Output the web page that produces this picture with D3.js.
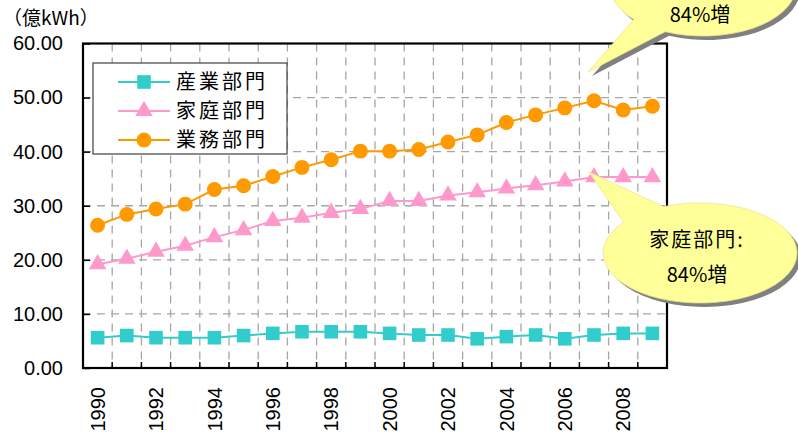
<!DOCTYPE html>
<html>
<head>
<meta charset="utf-8">
<script src="https://cdn.jsdelivr.net/npm/d3@7"></script>
<style>
  html, body { margin: 0; padding: 0; background: #fff; }
  svg { display: block; }
</style>
</head>
<body>
<svg id="chart" width="798" height="437"></svg>
<script>
// Electricity consumption by sector (100 million kWh)
const years = [1990,1991,1992,1993,1994,1995,1996,1997,1998,1999,
               2000,2001,2002,2003,2004,2005,2006,2007,2008,2009];
const industry = [5.6,6.0,5.6,5.6,5.6,6.0,6.4,6.7,6.7,6.7,
                  6.4,6.1,6.1,5.4,5.8,6.1,5.4,6.1,6.4,6.4];
const household = [19.2,20.2,21.5,22.6,24.2,25.5,27.2,27.8,28.7,29.4,
                   30.9,30.9,31.9,32.5,33.2,33.8,34.5,35.3,35.3,35.3];
const business = [26.4,28.4,29.4,30.3,33.0,33.7,35.4,37.1,38.5,40.1,
                  40.1,40.4,41.8,43.1,45.4,46.8,48.1,49.4,47.7,48.4];
const yTicks = [0,10,20,30,40,50,60];
const seriesNames = ["産業部門","家庭部門","業務部門"];
const seriesColors = ["#33CCCC","#FF99CC","#FF9900"];
const unitLabel = "（億kWh）";
const calloutTexts = [["84%増"],["家庭部門:","84%増"]];

const series = [
  {name: seriesNames[0], values: industry, color: seriesColors[0], symbol: d3.symbolSquare, size: 185},
  {name: seriesNames[1], values: household, color: seriesColors[1], symbol: d3.symbolTriangle, size: 135},
  {name: seriesNames[2], values: business, color: seriesColors[2], symbol: d3.symbolCircle, size: 175}
];

const svg = d3.select("#chart");
const plotLeft = 83, plotRight = 667, plotTop = 43.5, plotBottom = 368;
const numFont = "'Liberation Sans', Arial, sans-serif";
const jpFont = "'Noto Sans CJK JP', sans-serif";

const x = d3.scaleBand().domain(years).range([plotLeft, plotRight]).padding(0);
const y = d3.scaleLinear().domain([0, 60]).range([plotBottom, plotTop]);
const cx = d => x(d) + x.bandwidth() / 2;

// dashed grid
const grid = svg.append("g").attr("stroke", "#a6a6a6").attr("stroke-width", 1.3)
  .attr("stroke-dasharray", "8,6");
grid.selectAll("line.h").data(yTicks.filter(v => v > 0 && v < 60)).join("line")
  .attr("x1", plotLeft).attr("x2", plotRight).attr("y1", d => y(d)).attr("y2", d => y(d));
grid.selectAll("line.v").data(years.slice(1)).join("line")
  .attr("x1", d => x(d)).attr("x2", d => x(d)).attr("y1", plotTop).attr("y2", plotBottom);

// y axis (ticks point inward)
const yAxis = svg.append("g").attr("transform", `translate(${plotLeft},0)`)
  .call(d3.axisLeft(y).tickValues(yTicks).tickSize(-7).tickPadding(20)
    .tickFormat(d3.format(".2f")));
yAxis.select(".domain").remove();
yAxis.selectAll("line").attr("stroke", "#000").attr("stroke-width", 1.5);
yAxis.selectAll("text").attr("font-family", numFont).attr("font-size", 20).attr("fill", "#000");

// x axis labels (even years, vertical)
const xAxis = svg.append("g").attr("transform", `translate(0,${plotBottom})`)
  .call(d3.axisBottom(x).tickSize(0).tickFormat(d => d % 2 === 0 ? d : ""));
xAxis.select(".domain").remove();
xAxis.selectAll("text")
  .attr("font-family", numFont).attr("font-size", 20).attr("fill", "#000")
  .attr("transform", "rotate(-90)")
  .attr("text-anchor", "end")
  .attr("x", -19).attr("y", 0).attr("dy", "0.36em");

// x ticks at category boundaries, pointing inward
svg.append("g").selectAll("line").data(years.slice(1)).join("line")
  .attr("x1", d => x(d)).attr("x2", d => x(d))
  .attr("y1", plotBottom).attr("y2", plotBottom - 6)
  .attr("stroke", "#000").attr("stroke-width", 1.5);

// plot frame
svg.append("rect").attr("x", plotLeft).attr("y", plotTop)
  .attr("width", plotRight - plotLeft).attr("height", plotBottom - plotTop)
  .attr("fill", "none").attr("stroke", "#000").attr("stroke-width", 2.2);

// series lines and markers
const line = d3.line().x((d, i) => cx(years[i])).y(d => y(d));
series.forEach(s => {
  const g = svg.append("g");
  g.append("path").datum(s.values).attr("d", line)
    .attr("fill", "none").attr("stroke", s.color).attr("stroke-width", 2);
  g.selectAll("path.m").data(s.values).join("path").attr("class", "m")
    .attr("transform", (d, i) => `translate(${cx(years[i])},${y(d)})`)
    .attr("d", d3.symbol().type(s.symbol).size(s.size))
    .attr("fill", s.color);
});

// legend
const lg = svg.append("g");
lg.append("rect").attr("x", 93).attr("y", 63).attr("width", 194).attr("height", 91)
  .attr("fill", "#fff").attr("stroke", "#404040").attr("stroke-width", 1.2);
series.forEach((s, i) => {
  const ly = 82 + i * 29;
  lg.append("line").attr("x1", 118).attr("x2", 170).attr("y1", ly).attr("y2", ly)
    .attr("stroke", s.color).attr("stroke-width", 2);
  lg.append("path").attr("transform", `translate(144,${ly})`)
    .attr("d", d3.symbol().type(s.symbol).size(s.size)).attr("fill", s.color);
  lg.append("text").attr("x", 176).attr("y", ly).attr("dy", "0.36em")
    .attr("font-family", jpFont).attr("font-size", 20).attr("letter-spacing", 3)
    .attr("fill", "#000").text(s.name);
});

// unit label
svg.append("text").attr("x", 3).attr("y", 18).attr("dy", "0.36em")
  .attr("font-family", jpFont).attr("font-size", 19).attr("fill", "#000").text(unitLabel);

// wedge-shaped ellipse callouts
function calloutPath(c) {
  const pt = a => [c.cx + c.rx * Math.cos(a * Math.PI / 180), c.cy + c.ry * Math.sin(a * Math.PI / 180)];
  const p1 = pt(c.a1), p2 = pt(c.a2);
  return `M${p1}L${c.tip}L${p2}A${c.rx},${c.ry} 0 1 ${c.sweep} ${p1}Z`;
}
const callouts = [
  {cx: 703, cy: -14, rx: 93, ry: 50, tip: [588, 72], a1: 138, a2: 114, sweep: 0,
   lines: calloutTexts[0], textY: [15]},
  {cx: 700, cy: 253, rx: 97, ry: 50, tip: [589, 172], a1: -142, a2: -112, sweep: 1,
   lines: calloutTexts[1], textY: [240, 275]}
];
callouts.forEach(c => {
  const g = svg.append("g");
  g.append("path").attr("d", calloutPath(c)).attr("transform", "translate(4,4)")
    .attr("fill", "#808080");
  g.append("path").attr("d", calloutPath(c))
    .attr("fill", "#FFFF99").attr("stroke", "#e8e88c").attr("stroke-width", 0.8);
  c.lines.forEach((t, i) => {
    g.append("text").attr("x", c.cx - 3).attr("y", c.textY[i]).attr("dy", "0.36em")
      .attr("text-anchor", "middle")
      .attr("font-family", jpFont).attr("font-size", 20)
      .attr("letter-spacing", t.includes(":") ? 2 : 0)
      .attr("fill", "#000").text(t);
  });
});
</script>
</body>
</html>
